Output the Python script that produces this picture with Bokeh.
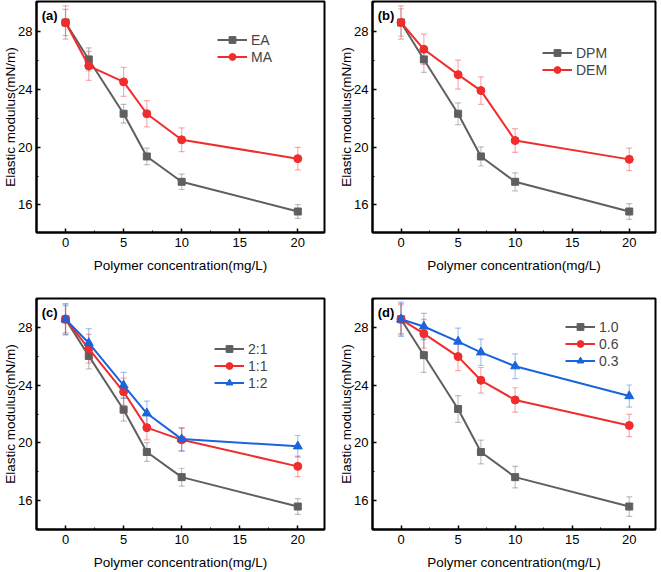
from bokeh.plotting import figure
from bokeh.layouts import gridplot
from bokeh.models import (ColumnDataSource, Whisker, TeeHead, FixedTicker, Label,
                          Legend, LegendItem, Range1d)
from bokeh.embed import file_html
from bokeh.resources import INLINE

# ---------------- data ----------------
conc = [0, 2, 5, 7, 10, 20]

# (a)
ea = [28.6, 26.05, 22.3, 19.35, 17.6, 15.55]
ea_err = [0.9, 0.8, 0.65, 0.57, 0.53, 0.48]
ma = [28.6, 25.6, 24.5, 22.3, 20.5, 19.2]
ma_err = [1.15, 1.0, 1.0, 0.9, 0.82, 0.78]

# (b)
dpm = [28.6, 26.05, 22.3, 19.35, 17.6, 15.55]
dpm_err = [0.95, 0.9, 0.75, 0.66, 0.62, 0.55]
dem = [28.6, 26.75, 25.0, 23.9, 20.45, 19.15]
dem_err = [1.15, 1.05, 1.0, 0.95, 0.82, 0.78]

# (c)
r21 = [28.6, 26.05, 22.3, 19.35, 17.6, 15.55]
r21_err = [0.95, 0.9, 0.8, 0.65, 0.62, 0.55]
r11 = [28.6, 26.55, 23.55, 21.05, 20.2, 18.35]
r11_err = [1.1, 1.0, 0.95, 0.85, 0.8, 0.72]
r12 = [28.6, 26.95, 24.0, 22.05, 20.25, 19.75]
r12_err = [1.05, 1.0, 0.9, 0.85, 0.8, 0.75]

# (d)
d10 = [28.6, 26.1, 22.35, 19.35, 17.6, 15.55]
d10_err = [1.1, 1.2, 0.93, 0.83, 0.75, 0.68]
d06 = [28.6, 27.6, 26.0, 24.35, 22.98, 21.2]
d06_err = [1.0, 1.0, 0.98, 0.89, 0.85, 0.78]
d03 = [28.6, 28.1, 27.05, 26.3, 25.33, 23.25]
d03_err = [1.2, 0.92, 0.93, 0.92, 0.86, 0.77]

x_ticks = [0, 5, 10, 15, 20]
x_minor = [-2.5, 2.5, 7.5, 12.5, 17.5, 22.5]
y_ticks = [16, 20, 24, 28]
y_minor = [14, 18, 22, 26, 30]

GRAY = "#5f5f5f"
RED = "#f02c2c"
BLUE = "#1a64dc"
FONT = "Liberation Sans"
NAN = float("nan")


def make_fig(w, h, left, right, top, bottom, panel, series, leg_loc, y_lo):
    p = figure(width=w, height=h, output_backend="svg", toolbar_location=None,
               x_range=Range1d(-2.5, 22.3), y_range=Range1d(y_lo, 30.05),
               min_border_left=left, min_border_right=right,
               min_border_top=top, min_border_bottom=bottom)
    p.grid.visible = False
    p.outline_line_color = "black"
    p.outline_line_width = 2
    p.background_fill_color = "white"
    p.border_fill_color = "white"

    for ax in (p.xaxis[0], p.yaxis[0]):
        ax.axis_line_width = 2
        ax.axis_line_color = "black"
        ax.major_tick_in = 4
        ax.major_tick_out = 0
        ax.minor_tick_in = 2
        ax.minor_tick_out = 0
        ax.major_tick_line_width = 1.5
        ax.minor_tick_line_width = 1
        ax.major_label_text_font = FONT
        ax.major_label_text_font_size = "13px"
        ax.major_label_text_color = "black"
        ax.axis_label_text_font = FONT
        ax.axis_label_text_font_size = "13.5px"
        ax.axis_label_text_font_style = "normal"
        ax.axis_label_text_color = "black"
    p.xaxis.ticker = FixedTicker(ticks=x_ticks, minor_ticks=x_minor)
    p.yaxis.ticker = FixedTicker(ticks=y_ticks, minor_ticks=y_minor)
    p.xaxis.axis_label = "Polymer concentration(mg/L)"
    p.yaxis.axis_label = "Elastic modulus(mN/m)"
    p.xaxis.major_label_standoff = 5
    p.xaxis.axis_label_standoff = 8
    p.yaxis.major_label_standoff = 4
    p.yaxis.axis_label_standoff = -3

    items = []
    for name, vals, errs, color, marker, msize in series:
        src = ColumnDataSource(dict(x=conc, y=vals,
                                    up=[v + e for v, e in zip(vals, errs)],
                                    lo=[v - e for v, e in zip(vals, errs)]))
        wh = Whisker(base="x", upper="up", lower="lo", source=src,
                     line_color=color, line_alpha=0.38, line_width=1.2,
                     upper_head=TeeHead(size=6, line_color=color, line_alpha=0.38, line_width=1.2),
                     lower_head=TeeHead(size=6, line_color=color, line_alpha=0.38, line_width=1.2))
        p.add_layout(wh)
        p.line("x", "y", source=src, line_color=color, line_width=2)
        p.scatter("x", "y", source=src, marker=marker, size=msize,
                  fill_color=color, line_color=color)
        # legend-only glyphs (smaller markers, as in the reference legend)
        ghost = ColumnDataSource(dict(x=[NAN], y=[NAN]))
        lln = p.line("x", "y", source=ghost, line_color=color, line_width=2)
        lsc = p.scatter("x", "y", source=ghost, marker=marker, size=msize - 2.5,
                        fill_color=color, line_color=color)
        items.append(LegendItem(label=name, renderers=[lln, lsc]))

    leg = Legend(items=items, location=leg_loc, border_line_alpha=0,
                 background_fill_alpha=0, padding=0, margin=0, spacing=0,
                 label_text_font=FONT, label_text_font_size="14px",
                 label_height=17, glyph_height=17, glyph_width=30,
                 label_standoff=4)
    p.add_layout(leg)

    p.add_layout(Label(x=-2.05, y=29.1, text=panel, text_font=FONT,
                       text_font_size="13px", text_font_style="bold",
                       text_baseline="middle", text_color="black"))
    return p


pa = make_fig(330, 286, 36, 6, 1, 54, "(a)",
              [("EA", ea, ea_err, GRAY, "square", 7),
               ("MA", ma, ma_err, RED, "circle", 8)], (181, 167), 14.1)
pb = make_fig(331, 286, 42, 6, 1, 54, "(b)",
              [("DPM", dpm, dpm_err, GRAY, "square", 7),
               ("DEM", dem, dem_err, RED, "circle", 8)], (170, 154), 14.1)
pc = make_fig(330, 286, 36, 6, 12, 41, "(c)",
              [("2:1", r21, r21_err, GRAY, "square", 7),
               ("1:1", r11, r11_err, RED, "circle", 8),
               ("1:2", r12, r12_err, BLUE, "triangle", 9)], (178, 138), 13.95)
pd = make_fig(331, 286, 41, 6, 12, 41, "(d)",
              [("1.0", d10, d10_err, GRAY, "square", 7),
               ("0.6", d06, d06_err, RED, "circle", 8),
               ("0.3", d03, d03_err, BLUE, "triangle", 9)], (193, 160), 13.95)

grid = gridplot([[pa, pb], [pc, pd]], toolbar_location=None)

open("out.html", "w").write(file_html(grid, INLINE))
